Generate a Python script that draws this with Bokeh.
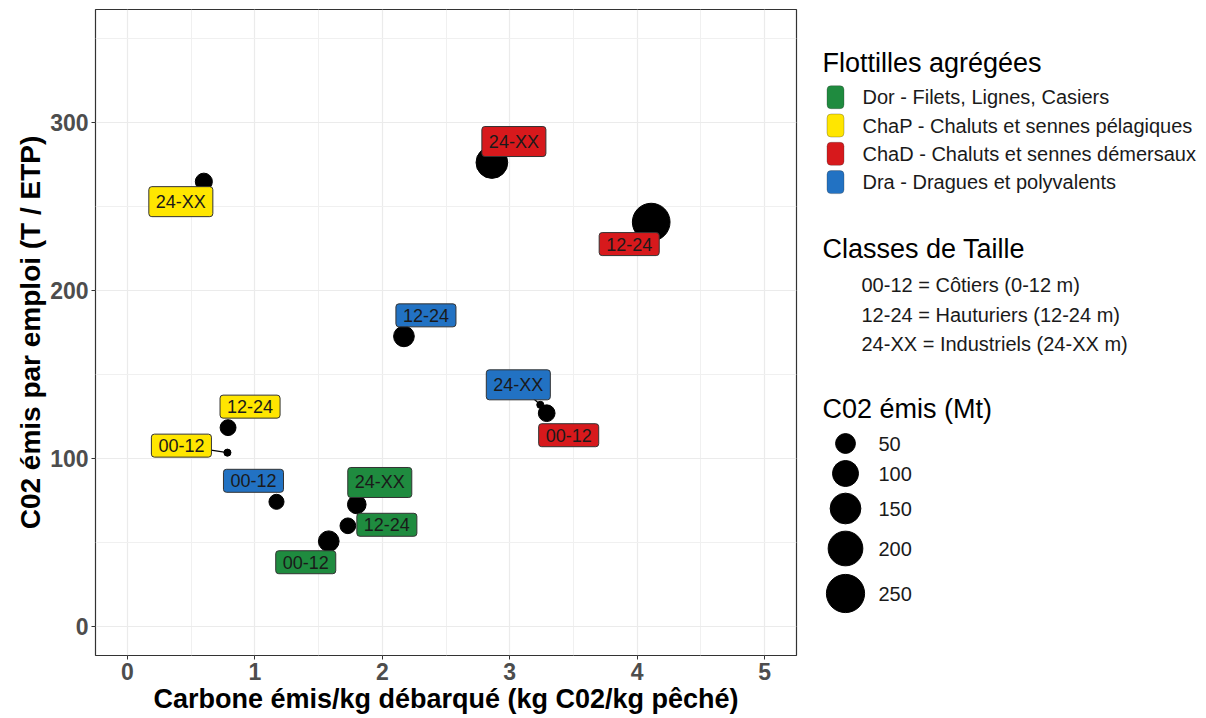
from bokeh.plotting import figure
from bokeh.models import Range1d, FixedTicker, Label, BoxAnnotation
from bokeh.layouts import row
from bokeh.core.properties import value
from bokeh.embed import file_html
from bokeh.resources import INLINE
import math

# ---------------- data ----------------
flottille = ["Dor", "Dor", "Dor", "ChaP", "ChaP", "ChaP",
             "ChaD", "ChaD", "ChaD", "Dra", "Dra", "Dra"]
taille = ["00-12", "12-24", "24-XX", "00-12", "12-24", "24-XX",
          "00-12", "12-24", "24-XX", "00-12", "12-24", "24-XX"]
carbone_kg = [1.58, 1.73, 1.80, 0.785, 0.79, 0.60,
              3.29, 4.11, 2.86, 1.17, 2.17, 3.24]
co2_emploi = [50.6, 59.8, 72.5, 103.4, 118.3, 264.9,
              126.9, 240.8, 276.3, 74.1, 172.7, 131.9]
co2_mt = [56, 26, 42, 1, 27, 33, 31, 242, 162, 23, 56, 1]

flottille_codes = ["Dor", "ChaP", "ChaD", "Dra"]
flottille_noms = ["Dor - Filets, Lignes, Casiers",
                  "ChaP - Chaluts et sennes pélagiques",
                  "ChaD - Chaluts et sennes démersaux",
                  "Dra - Dragues et polyvalents"]
classes_txt = ["00-12 = Côtiers (0-12 m)",
               "12-24 = Hauturiers (12-24 m)",
               "24-XX = Industriels (24-XX m)"]
taille_legende = [50, 100, 150, 200, 250]

x_ticks = [0, 1, 2, 3, 4, 5]
y_ticks = [0, 100, 200, 300]

# ---------------- styles ----------------
couleurs = {"Dor": "#1F8B3F", "ChaP": "#FFE600", "ChaD": "#D7191C", "Dra": "#2272C3"}
# label offsets (screen px, y downward) from each point
label_dx = [-23, 39, 23, -46, 22, -23, 22, -22, 22, -23, 22, -22]
label_dy = [21, -1, -22, -7, -21, 20, 22, 22, -21, -21, -21, -20]
segment_on = [False, False, False, True, False, False, False, False, False, False, False, True]

FONT = "Liberation Sans"


def diam(v):
    return 5 + 2.1 * math.sqrt(v)


TOTAL_W, TOTAL_H = 1204, 716
FW, FH = 701, 646
XR = (-0.25, 5.25)
YR = (-17.5, 367.5)
BL, BR, BT = 95, 10, 9
BB = TOTAL_H - BT - FH

p = figure(width=BL + FW + BR, height=TOTAL_H,
           x_range=Range1d(*XR), y_range=Range1d(*YR),
           output_backend="svg", toolbar_location=None,
           min_border_left=BL, min_border_right=BR,
           min_border_top=BT, min_border_bottom=BB)
p.background_fill_color = "white"
p.border_fill_color = "white"
p.outline_line_color = "#333333"
p.outline_line_width = 1.2

p.xaxis.ticker = FixedTicker(ticks=x_ticks, minor_ticks=[0.5, 1.5, 2.5, 3.5, 4.5])
p.yaxis.ticker = FixedTicker(ticks=y_ticks, minor_ticks=[50, 150, 250, 350])
for ax in (p.xaxis, p.yaxis):
    ax.axis_line_color = None
    ax.major_tick_line_color = "#333333"
    ax.major_tick_out = 4
    ax.major_tick_in = 0
    ax.minor_tick_line_color = None
    ax.major_label_text_font = FONT
    ax.major_label_text_font_style = "bold"
    ax.major_label_text_color = "#4D4D4D"
    ax.major_label_text_font_size = "23px"
    ax.major_label_standoff = 3
    ax.axis_label_text_font = FONT
    ax.axis_label_text_font_style = "bold"
    ax.axis_label_text_color = "black"
    ax.axis_label_standoff = 1
p.xaxis.axis_label = "Carbone émis/kg débarqué (kg C02/kg pêché)"
p.yaxis.axis_label = "C02 émis par emploi (T / ETP)"
p.xaxis.axis_label_text_font_size = "27px"
p.yaxis.axis_label_text_font_size = "28px"

for g in (p.xgrid, p.ygrid):
    g.grid_line_color = "#EBEBEB"
    g.grid_line_width = 1.2
    g.minor_grid_line_color = "#F0F0F0"
    g.minor_grid_line_width = 1

# segments from point toward label (label drawn on top)
sx = FW / (XR[1] - XR[0])
sy = FH / (YR[1] - YR[0])
for i in range(len(carbone_kg)):
    if segment_on[i]:
        p.segment(x0=[carbone_kg[i]], y0=[co2_emploi[i]],
                  x1=[carbone_kg[i] + label_dx[i] / sx],
                  y1=[co2_emploi[i] - label_dy[i] / sy],
                  line_color="black", line_width=1.2)

p.scatter(x=carbone_kg, y=co2_emploi, size=[diam(v) for v in co2_mt],
          fill_color="black", line_color="black")

for i in range(len(carbone_kg)):
    p.add_layout(Label(x=carbone_kg[i], y=co2_emploi[i],
                       x_offset=label_dx[i], y_offset=-label_dy[i],
                       text=taille[i], text_align="center", text_baseline="middle",
                       text_font=FONT, text_font_size="18px", text_color="#1A1A1A",
                       background_fill_color=couleurs[flottille[i]],
                       border_line_color="#333333", border_line_width=1,
                       padding=(7, 5), border_radius=3))

# ---------------- legend panel ----------------
# same vertical borders as the main plot so that the aligned frames map 1:1 to page pixels
LW = TOTAL_W - (BL + FW + BR)
X0 = BL + FW + BR  # left of legend panel in page px
lg = figure(width=LW, height=TOTAL_H,
            x_range=Range1d(X0, X0 + LW), y_range=Range1d(BT + FH, BT),
            output_backend="svg", toolbar_location=None,
            min_border_left=0, min_border_right=0,
            min_border_top=BT, min_border_bottom=BB)
lg.axis.visible = False
lg.grid.visible = False
lg.outline_line_color = None
lg.background_fill_color = "white"
lg.border_fill_color = "white"

TITLE_SIZE = "27px"
ITEM_SIZE = "20px"

lg.text(x=[822, 822, 822], y=[62, 248, 408],
        text=["Flottilles agrégées", "Classes de Taille", "C02 émis (Mt)"],
        text_font=value(FONT), text_font_size=value(TITLE_SIZE),
        text_baseline="middle", text_align="left", text_color="black")

key_y = [96.7 + 28.3 * i for i in range(len(flottille_codes))]
for code, ky in zip(flottille_codes, key_y):
    lg.add_layout(BoxAnnotation(left=826.5, right=843.5, top=ky - 11.5, bottom=ky + 11.5,
                                fill_color=couleurs[code], fill_alpha=1,
                                line_color="#333333", line_width=1, border_radius=4,
                                level="glyph"))
lg.text(x=[862] * len(flottille_noms), y=key_y, text=flottille_noms,
        text_font=value(FONT), text_font_size=value(ITEM_SIZE),
        text_baseline="middle", text_align="left", text_color="#1A1A1A")

class_y = [284, 314, 343]
lg.text(x=[861] * len(classes_txt), y=class_y, text=classes_txt,
        text_font=value(FONT), text_font_size=value(ITEM_SIZE),
        text_baseline="middle", text_align="left", text_color="#1A1A1A")

size_y = [443, 473, 508, 548, 593]
lg.scatter(x=[845] * len(taille_legende), y=size_y,
           size=[diam(v) for v in taille_legende], fill_color="black", line_color="black")
lg.text(x=[878] * len(taille_legende), y=size_y, text=[str(v) for v in taille_legende],
        text_font=value(FONT), text_font_size=value(ITEM_SIZE),
        text_baseline="middle", text_align="left", text_color="#1A1A1A")

layout = row(p, lg)
open("out.html", "w").write(file_html(layout, INLINE))
